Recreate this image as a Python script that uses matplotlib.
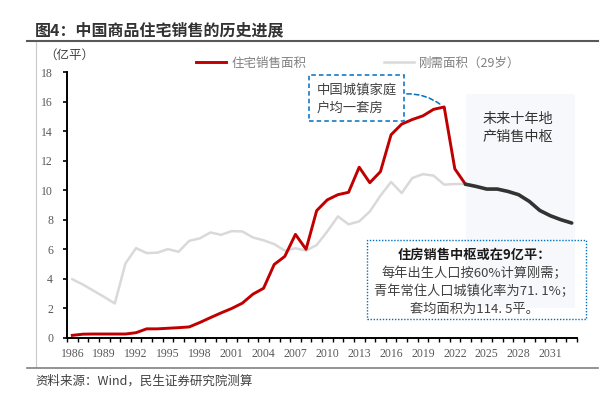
import matplotlib
matplotlib.use("Agg")
import matplotlib.pyplot as plt
from matplotlib.patches import Rectangle, FancyArrowPatch
from matplotlib.lines import Line2D
import numpy as np

plt.rcParams['font.family'] = ['Noto Sans CJK SC', 'DejaVu Sans']

years = list(range(1986, 2034))
sales_years = list(range(1986, 2024))
sales = [0.18, 0.26, 0.27, 0.27, 0.27, 0.27, 0.36, 0.62, 0.62, 0.66, 0.70, 0.75,
         1.05, 1.38, 1.70, 2.00, 2.36, 2.97, 3.37, 4.98, 5.53, 7.02, 6.01, 8.63,
         9.36, 9.71, 9.87, 11.57, 10.52, 11.27, 13.77, 14.49, 14.80, 15.05, 15.49,
         15.65, 11.46, 10.42]
need = [3.98, 3.62, 3.20, 2.78, 2.34, 5.05, 6.09, 5.75, 5.78, 6.02, 5.84, 6.58,
        6.75, 7.15, 6.99, 7.24, 7.22, 6.81, 6.62, 6.36, 5.92, 6.08, 5.92, 6.30,
        7.22, 8.24, 7.70, 7.90, 8.57, 9.64, 10.57, 9.82, 10.84, 11.10, 11.00,
        10.39, 10.43, 10.43]
fc_years = list(range(2023, 2034))
forecast = [10.42, 10.27, 10.09, 10.09, 9.93, 9.71, 9.26, 8.64, 8.28, 8.01, 7.79]
xtick_labels = [str(y) for y in range(1986, 2034, 3)]

W, H = 616, 395
def fx(x): return x / W
def fy(y): return 1 - y / H

fig = plt.figure(figsize=(6.16, 3.95), dpi=100)
ax = fig.add_axes([fx(67), fy(338), (577 - 67) / W, (338 - 72.3) / H])

idx = {y: i for i, y in enumerate(years)}
xs_sales = [idx[y] for y in sales_years]
xs_fc = [idx[y] for y in fc_years]

# shaded forecast zone
ax.add_patch(Rectangle((37.05, 2.0), 47.3 - 37.05, 16.55 - 2.0,
                       facecolor='#F7F8FB', edgecolor='none', zorder=0))

ax.plot(xs_sales, need, color='#D9D9D9', lw=1.8, zorder=2, solid_joinstyle='round')
ax.plot(xs_sales, sales, color='#C00000', lw=2.1, zorder=3, solid_joinstyle='round')
ax.plot(xs_fc, forecast, color='#333333', lw=2.6, zorder=4, solid_capstyle='round',
        solid_joinstyle='round')

ax.set_xlim(-0.5, len(years) - 0.5)
ax.set_ylim(0, 18)
ax.set_yticks(np.arange(0, 19, 2))
ax.set_xticks(np.arange(0, len(years), 3))
ax.set_xticklabels(xtick_labels)
ax.set_xticks(np.arange(-0.5, len(years), 1), minor=True)

for s in ['top', 'right']:
    ax.spines[s].set_visible(False)
for s in ['left', 'bottom']:
    ax.spines[s].set_linewidth(1.4)
    ax.spines[s].set_color('black')

ax.tick_params(axis='y', direction='out', length=3, width=1.2, pad=7, labelsize=8.5,
               labelcolor='#595959', labelfontfamily='Liberation Serif')
ax.tick_params(axis='x', which='major', length=0, pad=7, labelsize=8.5,
               labelcolor='#595959', labelfontfamily='Liberation Serif')
ax.tick_params(axis='x', which='minor', direction='out', length=3, width=1.0)

# legend
handles = [Line2D([], [], color='#C00000', lw=2.1),
           Line2D([], [], color='#D9D9D9', lw=1.8)]
leg = fig.legend(handles, ['住宅销售面积', '刚需面积（29岁）'], loc='center',
                 bbox_to_anchor=(fx(358), fy(63)), ncol=2, frameon=False,
                 fontsize=9, handlelength=2.4, handletextpad=0.4, columnspacing=6.2,
                 borderpad=0)
for t in leg.get_texts():
    t.set_color('#808080')

# title and frame lines
fig.text(fx(35), fy(30.7), '图4：中国商品住宅销售的历史进展', fontsize=11.5,
         fontweight='bold', color='#333333', ha='left', va='center')
fig.add_artist(Line2D([fx(27), fx(598)], [fy(40.7), fy(40.7)], color='#595959', lw=1.5))
fig.add_artist(Line2D([fx(35.7), fx(35.7)], [fy(41.5), fy(367)], color='#C8C8C8', lw=0.8))
fig.add_artist(Line2D([fx(27), fx(598)], [fy(367.5), fy(367.5)], color='#808080', lw=1.2))
fig.text(fx(35), fy(381), '资料来源：Wind，民生证券研究院测算', fontsize=9,
         color='#404040', ha='left', va='center')
fig.text(fx(44), fy(55), '（亿平）', fontsize=9, color='#404040', ha='left', va='center')

# box 1
fig.add_artist(Rectangle((fx(309), fy(121)), (404 - 309) / W, (121 - 75) / H,
                         transform=fig.transFigure, facecolor='white',
                         edgecolor='#0070C0', lw=1.1, ls=(0, (3, 2))))
fig.text(fx(317), fy(90), '中国城镇家庭', fontsize=9.6, color='#404040', ha='left', va='center')
fig.text(fx(317), fy(108), '户均一套房', fontsize=9.6, color='#404040', ha='left', va='center')
conn = FancyArrowPatch((fx(404), fy(94)), (fx(443), fy(106.5)), transform=fig.transFigure,
                       arrowstyle='-', connectionstyle='arc3,rad=-0.2',
                       color='#0070C0', lw=1.1, ls=(0, (3, 2)))
fig.add_artist(conn)

# forecast zone text
fig.text(fx(483), fy(119.3), '未来十年地', fontsize=10.2, color='#333333', ha='left', va='center')
fig.text(fx(483), fy(136.7), '产销售中枢', fontsize=10.2, color='#333333', ha='left', va='center')

# box 2
fig.add_artist(Rectangle((fx(367), fy(319)), (586 - 367) / W, (319 - 240) / H,
                         transform=fig.transFigure, facecolor='none',
                         edgecolor='#0070C0', lw=1.0, ls=(0, (1, 1.2))))
cx = fx(474)
fig.text(cx, fy(255), '住房销售中枢或在9亿平：', fontsize=9.5, fontweight='bold',
         color='#1a1a1a', ha='center', va='center')
fig.text(cx, fy(273), '每年出生人口按60%计算刚需；', fontsize=9.5, color='#404040',
         ha='center', va='center')
fig.text(cx, fy(291), '青年常住人口城镇化率为71. 1%；', fontsize=9.5, color='#404040',
         ha='center', va='center')
fig.text(cx, fy(309), '套均面积为114. 5平。', fontsize=9.5, color='#404040',
         ha='center', va='center')

fig.savefig('out.png', dpi=100)
